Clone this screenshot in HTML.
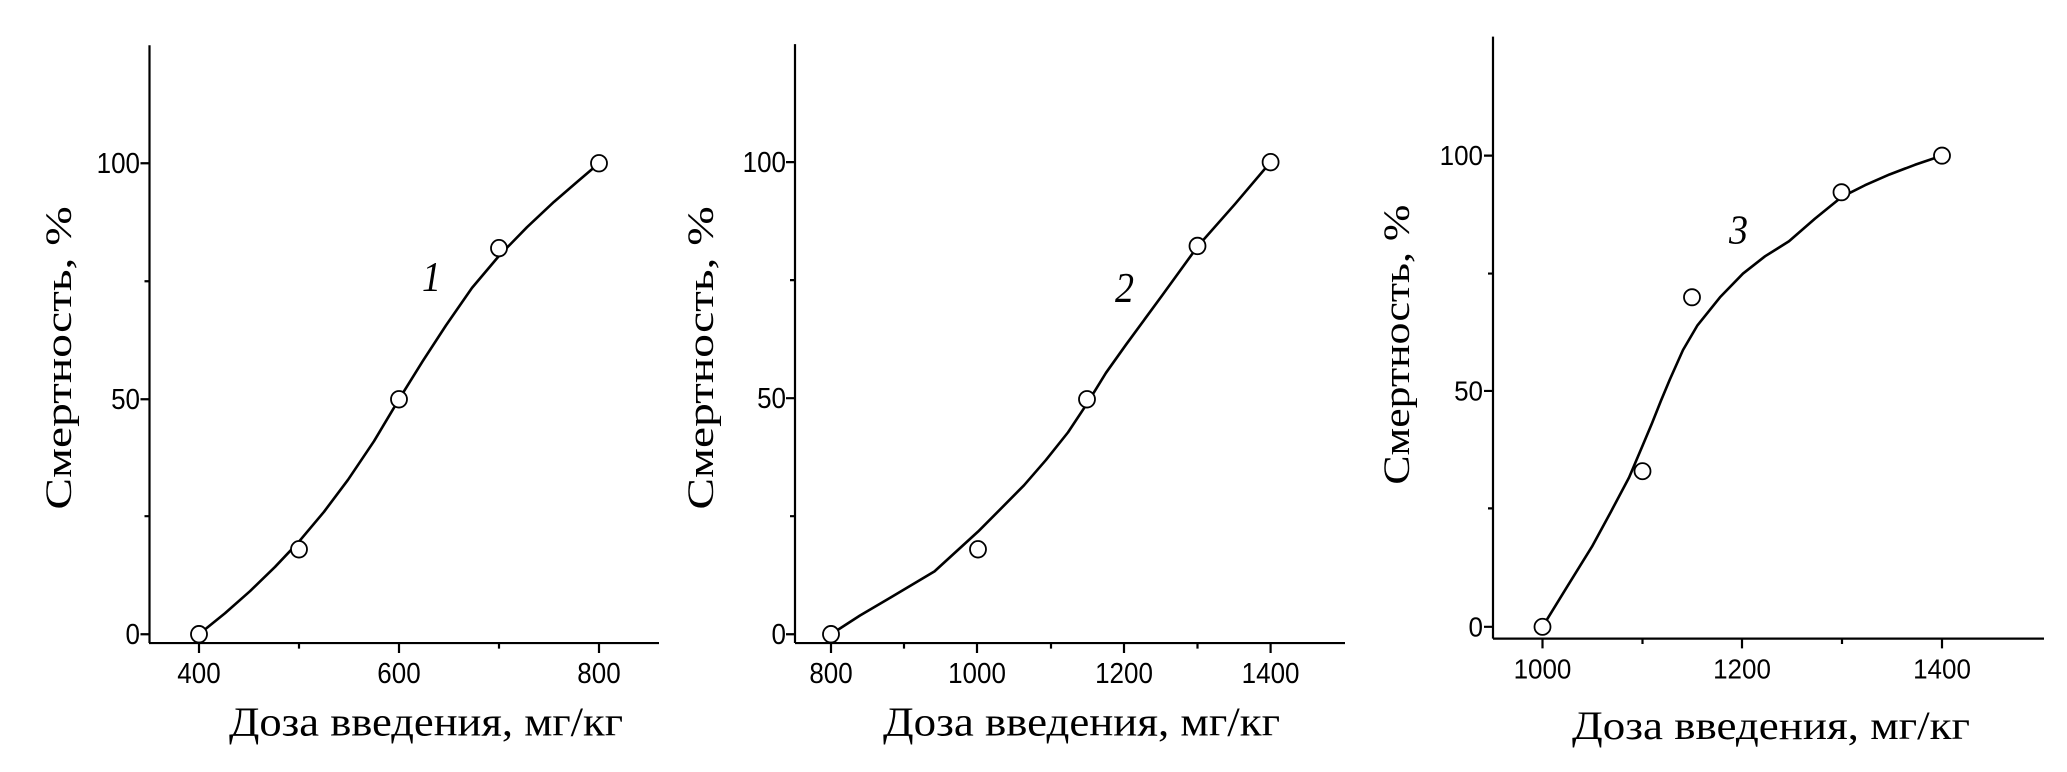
<!DOCTYPE html>
<html><head><meta charset="utf-8"><style>
html,body{margin:0;padding:0;background:#fff;}
svg{display:block}
.t{font-family:"Liberation Sans",sans-serif;font-size:26px;fill:#000}
.s{font-family:"Liberation Serif",serif;font-size:37px;fill:#000}
.n{font-family:"Liberation Serif",serif;font-size:38px;font-style:italic;fill:#000}
path,polyline,ellipse{vector-effect:non-scaling-stroke}
</style></head><body>
<svg width="2067" height="772" viewBox="0 0 2067 772" xmlns="http://www.w3.org/2000/svg">
<g transform="scale(1,1.103)">
<g stroke="#000" stroke-width="2.2" fill="none">
<path d="M149.5 41 V583 M149 583 H659"/>
<path d="M149.5 148 h-9 M149.5 362 h-9 M149.5 575 h-9 M149.5 255 h-5 M149.5 468 h-5"/>
<path d="M199 583 v9 M399 583 v9 M599 583 v9 M299 583 v5 M499 583 v5"/>
<path d="M795 40 V583 M795 583 H1345"/>
<path d="M795 147 h-9 M795 361 h-9 M795 575 h-9 M795 254 h-5 M795 468 h-5"/>
<path d="M831 583 v9 M977 583 v9 M1124 583 v9 M1270.6 583 v9 M904 583 v5 M1051 583 v5 M1197.5 583 v5"/>
</g>
<g stroke="#000" stroke-width="2.6" fill="none" stroke-linejoin="round" stroke-linecap="round">
<polyline points="199,575 225,556 250,536 275,514 299,491 324,464 348,435 374,400 399,362 423,327 446,295 472,261 499,232 527,206 554,183 577,165 599,148"/>
<polyline points="831,575 860,558 890,542 934.5,518 978,482 1000,462 1024,440 1046,417 1068,392 1087,366 1106,338 1126,312.5 1162,268 1198,223 1235,185 1270.6,147"/>
</g>
<g stroke="#000" stroke-width="1.8" fill="#fff">
<ellipse cx="199" cy="575" rx="8" ry="7.5"/><ellipse cx="299" cy="498" rx="8" ry="7.5"/><ellipse cx="399" cy="362" rx="8" ry="7.5"/><ellipse cx="499" cy="225" rx="8" ry="7.5"/><ellipse cx="599" cy="148" rx="8" ry="7.5"/>
<ellipse cx="831" cy="575" rx="8" ry="7.5"/><ellipse cx="978" cy="498" rx="8" ry="7.5"/><ellipse cx="1087" cy="362" rx="8" ry="7.5"/><ellipse cx="1197.5" cy="223" rx="8" ry="7.5"/><ellipse cx="1270.6" cy="147" rx="8" ry="7.5"/>
</g>
<g class="t" text-anchor="end">
<text x="140" y="157">100</text><text x="140" y="371">50</text><text x="140" y="584">0</text>
<text x="786" y="156">100</text><text x="786" y="370">50</text><text x="786" y="584">0</text>
</g>
<g class="t" text-anchor="middle">
<text x="199" y="619">400</text><text x="399" y="619">600</text><text x="599" y="619">800</text>
<text x="831" y="619">800</text><text x="977" y="619">1000</text><text x="1124" y="619">1200</text><text x="1270.6" y="619">1400</text>
</g>
<g class="s">
<text x="229" y="667" textLength="394" lengthAdjust="spacingAndGlyphs">Доза введения, мг/кг</text>
<text x="883" y="667" textLength="397" lengthAdjust="spacingAndGlyphs">Доза введения, мг/кг</text>
<text transform="translate(71,462) rotate(-90)" textLength="275" lengthAdjust="spacingAndGlyphs">Смертность, %</text>
<text transform="translate(713,462) rotate(-90)" textLength="275" lengthAdjust="spacingAndGlyphs">Смертность, %</text>
</g>
<g class="n">
<text x="422" y="264">1</text>
<text x="1115" y="274">2</text>
</g>
</g>
<g transform="scale(1,1.077)">
<g stroke="#000" stroke-width="2.2" fill="none">
<path d="M1493 34 V593 M1493 593 H2044"/>
<path d="M1493 144.5 h-9 M1493 363 h-9 M1493 582 h-9 M1493 254 h-5 M1493 472 h-5"/>
<path d="M1542.5 593 v9 M1742 593 v9 M1942 593 v9 M1642.5 593 v5 M1842 593 v5"/>
</g>
<polyline stroke="#000" stroke-width="2.6" fill="none" stroke-linejoin="round" stroke-linecap="round" points="1542.5,582 1567,545 1592,507.5 1611,475 1629,443.5 1642,415 1652,393 1661,372 1670,352 1683,325 1697.5,302 1720,276 1743,254 1765,238 1789,224 1815,203 1841.5,183 1865,172 1889.5,162 1915,153 1942,144.5"/>
<g stroke="#000" stroke-width="1.8" fill="#fff">
<ellipse cx="1542.5" cy="582" rx="8" ry="7.5"/><ellipse cx="1642.5" cy="437.5" rx="8" ry="7.5"/><ellipse cx="1692" cy="276" rx="8" ry="7.5"/><ellipse cx="1841.5" cy="178.5" rx="8" ry="7.5"/><ellipse cx="1942" cy="144.5" rx="8" ry="7.5"/>
</g>
<g class="t" text-anchor="end">
<text x="1483" y="153">100</text><text x="1483" y="372">50</text><text x="1483" y="591">0</text>
</g>
<g class="t" text-anchor="middle">
<text x="1542.5" y="630">1000</text><text x="1742" y="630">1200</text><text x="1942" y="630">1400</text>
</g>
<g class="s">
<text x="1572" y="686" textLength="398" lengthAdjust="spacingAndGlyphs">Доза введения, мг/кг</text>
<text transform="translate(1409,450) rotate(-90)" textLength="260" lengthAdjust="spacingAndGlyphs">Смертность, %</text>
</g>
<text class="n" x="1729" y="226">3</text>
</g>
</svg>
</body></html>
